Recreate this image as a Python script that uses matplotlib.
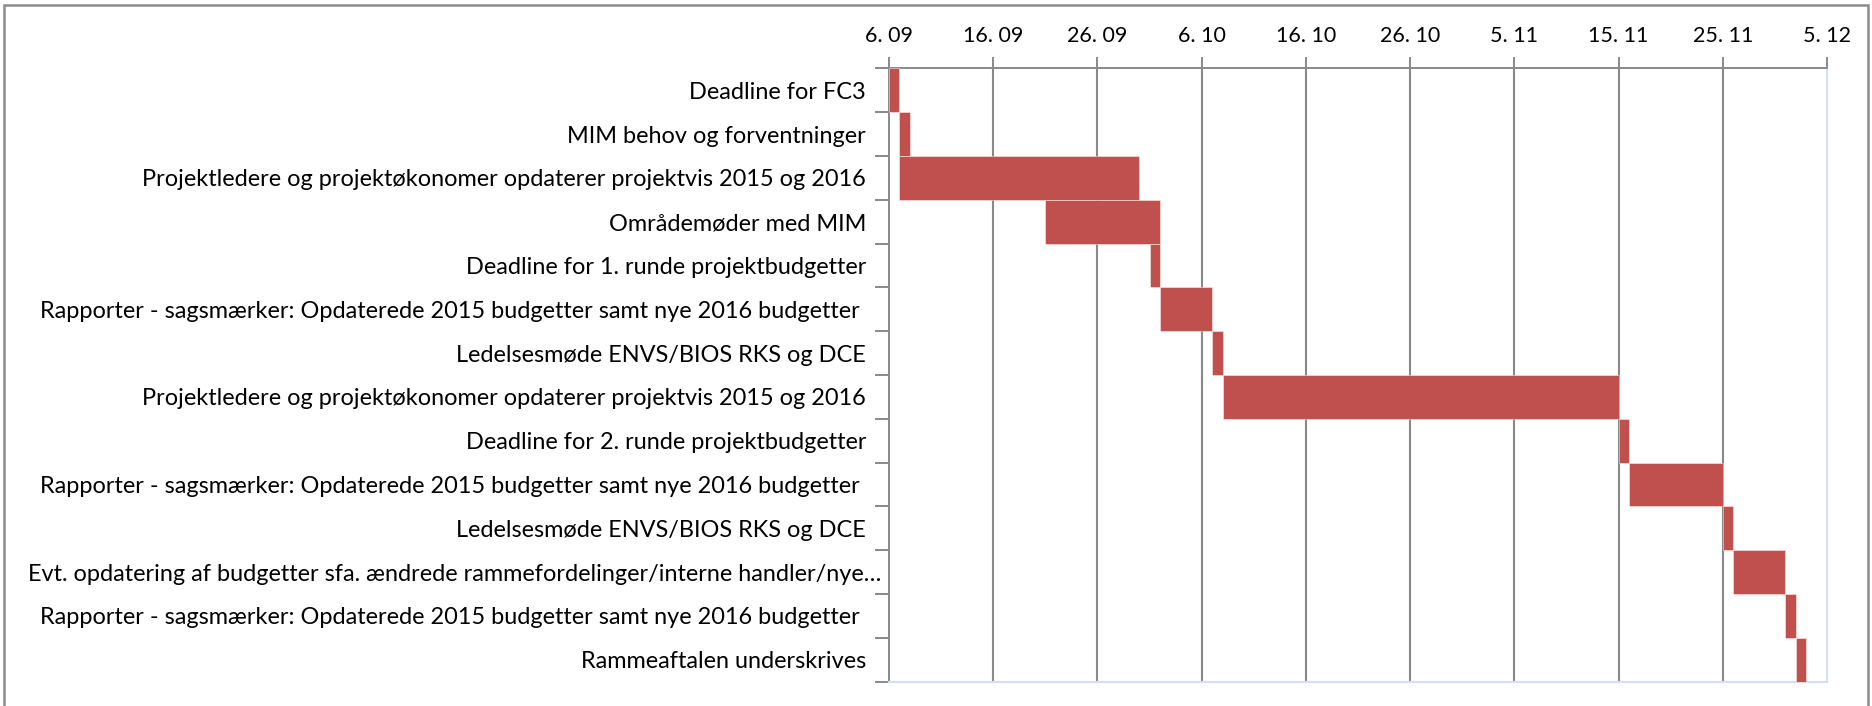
import datetime as dt
import matplotlib
matplotlib.use("Agg")
import matplotlib.pyplot as plt
import matplotlib.dates as mdates
import matplotlib.transforms as mtransforms
from matplotlib.patches import Rectangle

# Gantt data: task label, start date, duration in days
tasks = [
    "Deadline for FC3",
    "MIM behov og forventninger",
    "Projektledere og projektøkonomer opdaterer projektvis 2015 og 2016",
    "Områdemøder med MIM",
    "Deadline for 1. runde projektbudgetter",
    "Rapporter - sagsmærker: Opdaterede 2015 budgetter samt nye 2016 budgetter ",
    "Ledelsesmøde ENVS/BIOS RKS og DCE",
    "Projektledere og projektøkonomer opdaterer projektvis 2015 og 2016",
    "Deadline for 2. runde projektbudgetter",
    "Rapporter - sagsmærker: Opdaterede 2015 budgetter samt nye 2016 budgetter ",
    "Ledelsesmøde ENVS/BIOS RKS og DCE",
    "Evt. opdatering af budgetter sfa. ændrede rammefordelinger/interne handler/nye…",
    "Rapporter - sagsmærker: Opdaterede 2015 budgetter samt nye 2016 budgetter ",
    "Rammeaftalen underskrives",
]
starts = [
    "2015-09-06", "2015-09-07", "2015-09-07", "2015-09-21", "2015-10-01",
    "2015-10-02", "2015-10-07", "2015-10-08", "2015-11-15", "2015-11-16",
    "2015-11-25", "2015-11-26", "2015-12-01", "2015-12-02",
]
durations = [1, 1, 23, 11, 1, 5, 1, 38, 1, 9, 1, 5, 1, 1]

axis_start = "2015-09-06"
axis_end = "2015-12-05"
tick_step_days = 10

FONT = ["Lato", "DejaVu Sans"]
plt.rcParams["font.family"] = FONT

start_nums = [mdates.date2num(dt.date.fromisoformat(s)) for s in starts]
x0 = mdates.date2num(dt.date.fromisoformat(axis_start))
x1 = mdates.date2num(dt.date.fromisoformat(axis_end))

fig = plt.figure(figsize=(18.72, 7.06), dpi=100)
ax = fig.add_axes([889 / 1872, 1 - 681.7 / 706, (1827 - 889) / 1872, (681.7 - 68.3) / 706])

grid_col = "#898989"
ypos = list(range(len(tasks)))
ax.barh(ypos, durations, left=start_nums, height=1.0, color="#C0504D",
        edgecolor=(1, 1, 1, 0.45), linewidth=0.7, zorder=3)

ax.set_xlim(x0, x1)
ax.set_ylim(len(tasks) - 0.5, -0.5)

xticks = [x0 + d for d in range(0, int(x1 - x0) + 1, tick_step_days)]
ax.set_xticks(xticks)
labels = []
for t in xticks:
    d = mdates.num2date(t)
    labels.append(f"{d.day}. {d.month:02d}")  # excel renders a gap after the dot
ax.set_xticklabels(labels, fontsize=15.5)
ax.xaxis.tick_top()
ax.tick_params(axis="x", direction="out", length=8, width=1.4, color=grid_col, pad=8,
               labelcolor="#000000")

for t in xticks[1:-1]:
    ax.axvline(t, color=grid_col, lw=1.5, zorder=1)

# category boundaries as major ticks, labels on minor ticks
ax.set_yticks([i - 0.5 for i in range(len(tasks) + 1)])
ax.set_yticklabels([])
ax.set_yticks(ypos, minor=True)
ax.set_yticklabels(tasks, minor=True, fontsize=16.9)
ax.tick_params(axis="y", which="major", direction="out", length=10, width=1.4, color=grid_col)
ax.tick_params(axis="y", which="minor", length=0, pad=16.5)

# the truncated label sits a bit closer to the axis in the original
lab = ax.get_yticklabels(minor=True)[11]
lab.set_transform(lab.get_transform() + mtransforms.ScaledTranslation(15 / 100, 0, fig.dpi_scale_trans))

for side in ["left", "top"]:
    ax.spines[side].set_color(grid_col)
    ax.spines[side].set_linewidth(1.4)
for side in ["right", "bottom"]:
    ax.spines[side].set_color("#D9DEEE")
    ax.spines[side].set_linewidth(1.6)

# outer chart border
fig.patches.append(Rectangle((4 / 1872, -0.05), 1864 / 1872, 1.05 - 5 / 706,
                             transform=fig.transFigure, fill=False,
                             edgecolor="#8C8C8C", linewidth=1.8))

fig.savefig("out.png", dpi=100)
